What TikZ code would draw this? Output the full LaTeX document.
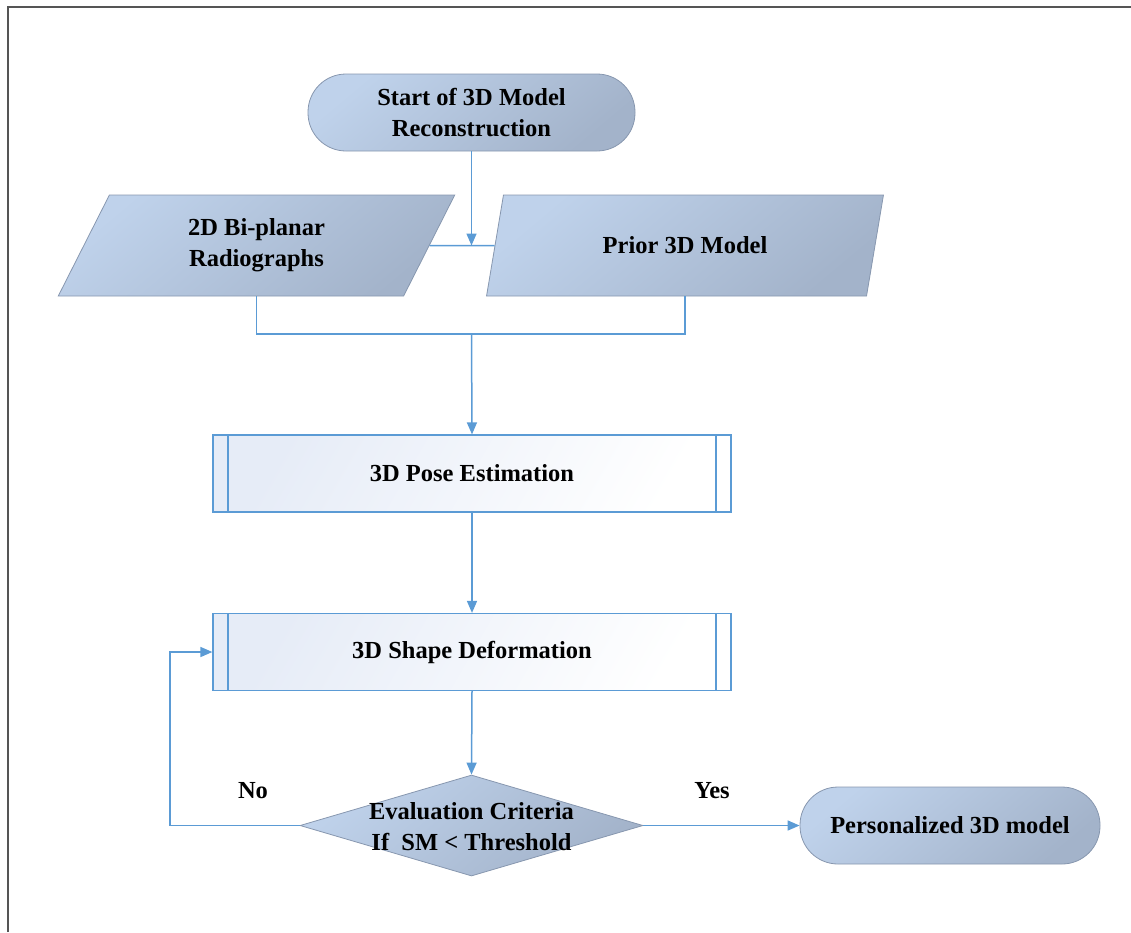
\documentclass[tikz,border=0pt]{standalone}
\usepackage{fontspec}
\setmainfont{Liberation Serif}
\usetikzlibrary{arrows.meta,shapes.geometric,shapes.misc}
\definecolor{termlight}{HTML}{BFD2EB}
\definecolor{termdark}{HTML}{A3B3CA}
\definecolor{termedge}{HTML}{8797AF}
\definecolor{flow}{HTML}{5B9BD5}
\definecolor{proclight}{HTML}{E6ECF7}
\definecolor{frameline}{HTML}{555555}
\begin{document}
\begin{tikzpicture}[x=1pt,y=-1pt,
  every node/.style={font=\fontsize{24.5}{31}\selectfont\bfseries, align=center},
  bluefill/.style={top color=termlight, bottom color=termdark, shading angle=40},
  terminal/.style={bluefill, draw=termedge, line width=0.8pt, rectangle,
    rounded corners=38pt, inner sep=0pt},
  inputbox/.style={bluefill, draw=termedge, line width=0.8pt, trapezium,
    trapezium left angle=66, trapezium right angle=114,
    trapezium stretches=true, minimum width=397pt, minimum height=101pt, inner sep=0pt},
  procbox/.style={top color=proclight, bottom color=white, shading angle=60,
    draw=flow, line width=1.2pt, rectangle, minimum width=518pt, minimum height=77pt,
    inner sep=0pt,
    path picture={
      \draw[flow, line width=1.2pt]
        ([xshift=15pt]path picture bounding box.north west) --
        ([xshift=15pt]path picture bounding box.south west);
      \draw[flow, line width=1.2pt]
        ([xshift=-15pt]path picture bounding box.north east) --
        ([xshift=-15pt]path picture bounding box.south east);}},
  decision/.style={bluefill, draw=termedge, line width=0.8pt, diamond,
    minimum width=343pt, minimum height=101pt, inner sep=0pt},
  link/.style={draw=flow, line width=1.5pt},
  arrow/.style={link, -{Triangle[length=12pt,width=10pt]}}
]
  \useasboundingbox (0,0) rectangle (1131,932);

  % outer frame (top and left rules)
  \draw[frameline, line width=2pt] (8,932) -- (8,7) -- (1131,7);

  % nodes
  \node[terminal, minimum width=327pt, minimum height=77pt] (start) at (471.5,112.5)
    {Start of 3D Model\\Reconstruction};
  \node[inputbox] (radio) at (256.5,245.5) {2D Bi-planar\\Radiographs};
  \node[inputbox] (prior) at (685,245.5) {Prior 3D Model};
  \node[procbox] (pose) at (472,473.5) {3D Pose Estimation};
  \node[procbox] (shape) at (472,652) {3D Shape Deformation};
  \node[decision, label={[align=center, yshift=-1pt]center:Evaluation Criteria\\If\ \ SM < Threshold}]
    (eval) at (471.5,825.5) {};
  \node[terminal, minimum width=300pt, minimum height=77pt] (final) at (950,825.5)
    {Personalized 3D model};

  \node (no) at (253,791) {No};
  \node (yes) at (712,791) {Yes};

  % junctions
  \coordinate (join) at (471.5,245.5);
  \coordinate (merge) at (471.5,334);
  \coordinate (loop) at (170,825.5);

  % connectors
  \draw[link] (radio.east) -- (prior.west);
  \draw[arrow] (start.south) -- (join);
  \draw[link] (radio.south) |- (merge) -| (prior.south);
  \draw[arrow] (merge) -- (pose.north);
  \draw[arrow] (pose.south) -- (shape.north);
  \draw[arrow] (shape.south) -- (eval.north);
  \draw[arrow] (eval.west) -- (loop) |- (shape.west);
  \draw[arrow] (eval.east) -- (final.west);
\end{tikzpicture}
\end{document}
